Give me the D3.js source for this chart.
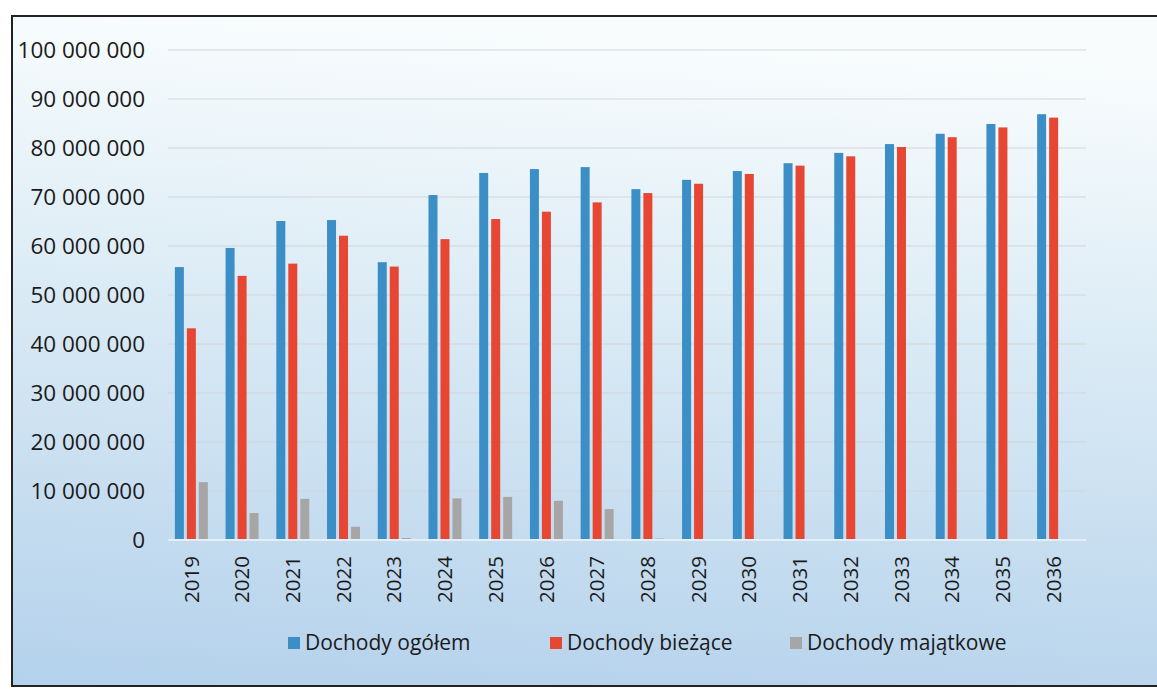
<!DOCTYPE html>
<html>
<head>
<meta charset="utf-8">
<script src="https://cdn.jsdelivr.net/npm/d3@7"></script>
<style>
  body { margin: 0; background: #fff; }
  text { font-family: "Open Sans", Lato, sans-serif; fill: #1a1a1a; }
</style>
</head>
<body>
<script>

var years = ["2019","2020","2021","2022","2023","2024","2025","2026","2027",
             "2028","2029","2030","2031","2032","2033","2034","2035","2036"];

// values in mln zł
var ogolem = [55.7, 59.6, 65.1, 65.3, 56.7, 70.4, 74.9, 75.7, 76.1,
              71.6, 73.5, 75.3, 76.9, 79.0, 80.8, 82.9, 84.9, 86.9];
var biezace = [43.2, 53.9, 56.4, 62.1, 55.8, 61.4, 65.5, 67.0, 68.9,
               70.8, 72.7, 74.7, 76.4, 78.3, 80.2, 82.2, 84.2, 86.2];
var majatkowe = [11.8, 5.5, 8.4, 2.7, 0.4, 8.5, 8.8, 8.0, 6.3,
                 0.3, 0.2, 0.2, 0.2, 0.2, 0.2, 0.2, 0.2, 0.2];

var seriesNames = ["Dochody ogółem", "Dochody bieżące", "Dochody majątkowe"];
var colors = ["#3b8ec6", "#e64632", "#a6a6a6"];
var yTicks = [0, 10, 20, 30, 40, 50, 60, 70, 80, 90, 100];

var W = 1157, H = 691;

var svg = d3.select("body").append("svg")
    .attr("width", W)
    .attr("height", H);

// scanned-looking gradient background
var grad = svg.append("defs").append("linearGradient")
    .attr("id", "bg").attr("x1", 0.1).attr("y1", 0).attr("x2", 0).attr("y2", 1);
grad.append("stop").attr("offset", "0%").attr("stop-color", "#f8fcfd");
grad.append("stop").attr("offset", "40%").attr("stop-color", "#dbebf5");
grad.append("stop").attr("offset", "100%").attr("stop-color", "#b4d1eb");

svg.append("rect")
    .attr("x", 12).attr("y", 16)
    .attr("width", W).attr("height", 670)
    .attr("fill", "url(#bg)")
    .attr("stroke", "#222")
    .attr("stroke-width", 2);

var x0 = d3.scaleBand()
    .domain(years)
    .range([166, 1079])
    .paddingInner(0.35)
    .paddingOuter(0.175);

var x1 = d3.scaleBand()
    .domain([0, 1, 2])
    .range([0, x0.bandwidth()])
    .paddingInner(0.25);

var y = d3.scaleLinear()
    .domain([0, 100])
    .range([540, 50]);

// gridlines
svg.append("g").selectAll("line")
    .data(yTicks.slice(1))
    .enter().append("line")
    .attr("x1", 168).attr("x2", 1086)
    .attr("y1", function(d) { return y(d); })
    .attr("y2", function(d) { return y(d); })
    .attr("stroke", "#d2d6d9")
    .attr("stroke-width", 1.2);

// y axis labels
var yAxis = d3.axisLeft(y)
    .tickValues(yTicks)
    .tickSize(0)
    .tickPadding(0)
    .tickFormat(function(d) {
      return d === 0 ? "0" : d3.format(",")(d * 1000000).replace(/,/g, " ");
    });

svg.append("g")
    .attr("transform", "translate(145,0)")
    .call(yAxis)
    .call(function(g) { g.select(".domain").remove(); })
    .selectAll("text")
    .style("font-size", "22.5px")
    .attr("fill", "#1a1a1a");

// bars
var table = years.map(function(yr, i) {
  return { year: yr, vals: [ogolem[i], biezace[i], majatkowe[i]] };
});

var groups = svg.append("g").selectAll("g")
    .data(table)
    .enter().append("g")
    .attr("transform", function(d) { return "translate(" + x0(d.year) + ",0)"; });

groups.selectAll("rect")
    .data(function(d) { return d.vals.map(function(v, k) { return { k: k, v: v }; }); })
    .enter().append("rect")
    .attr("x", function(d) { return x1(d.k); })
    .attr("width", x1.bandwidth())
    .attr("y", function(d) { return y(d.v); })
    .attr("height", function(d) { return y(0) - y(d.v); })
    .attr("fill", function(d) { return colors[d.k]; });

// baseline
svg.append("line")
    .attr("x1", 168).attr("x2", 1086)
    .attr("y1", y(0)).attr("y2", y(0))
    .attr("stroke", "#e4eef5")
    .attr("stroke-width", 2);

// x axis labels (rotated)
var xAxis = d3.axisBottom(x0).tickSize(0).tickPadding(0);
svg.append("g")
    .attr("transform", "translate(0," + (y(0) + 16) + ")")
    .call(xAxis)
    .call(function(g) { g.select(".domain").remove(); })
    .selectAll("text")
    .style("font-size", "20.5px")
    .attr("fill", "#1a1a1a")
    .attr("text-anchor", "end")
    .attr("dy", "0.35em")
    .attr("y", 0)
    .attr("transform", "rotate(-90)");

// legend
var legendX = [288, 550, 790];
var legend = svg.append("g").selectAll("g")
    .data(seriesNames)
    .enter().append("g")
    .attr("transform", function(d, i) { return "translate(" + legendX[i] + ",643)"; });

legend.append("rect")
    .attr("x", 0).attr("y", -6)
    .attr("width", 12).attr("height", 12)
    .attr("fill", function(d, i) { return colors[i]; });

legend.append("text")
    .attr("x", 17).attr("dy", "0.35em")
    .style("font-size", "21px")
    .text(function(d) { return d; });

</script>
</body>
</html>
